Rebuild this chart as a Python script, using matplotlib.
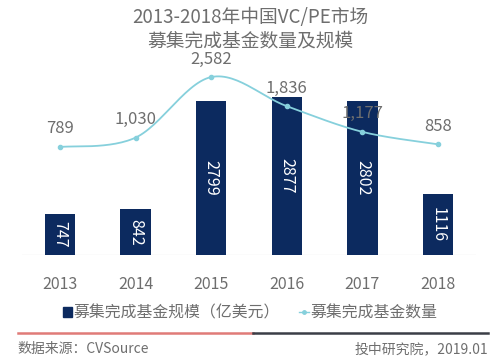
import numpy as np
import matplotlib
matplotlib.use("Agg")
import matplotlib.pyplot as plt
from matplotlib.patches import Rectangle
from matplotlib.lines import Line2D

plt.rcParams['font.family'] = ['Noto Sans CJK SC', 'DejaVu Sans']

years = ['2013', '2014', '2015', '2016', '2017', '2018']
fund_size = [747, 842, 2799, 2877, 2802, 1116]      # 募集完成基金规模（亿美元）
fund_count = [789, 1030, 2582, 1836, 1177, 858]     # 募集完成基金数量

title = '2013-2018年中国VC/PE市场\n募集完成基金数量及规模'
legend_labels = ['募集完成基金规模（亿美元）', '募集完成基金数量']
source_text = '数据来源：CVSource'
credit_text = '投中研究院，2019.01'

BAR = '#0c2a5f'
LINE = '#86d0dc'
GRAY = '#6e6e6e'

W, H = 500, 363
fig = plt.figure(figsize=(W / 100, H / 100), dpi=100)
fig.patch.set_facecolor('white')

def fx(px):
    return px / W

def fy(py):
    return 1 - py / H

left_px, right_px = 22.2, 22.2 + 453.6
top_px, bot_px = 60, 255
ax = fig.add_axes([fx(left_px), fy(bot_px), (right_px - left_px) / W, (bot_px - top_px) / H])
x = np.arange(len(years))
ax.set_xlim(-0.5, len(years) - 0.5)
ax.set_ylim(0, (bot_px - top_px) / 0.0549)
bars = ax.bar(x, fund_size, width=0.4, color=BAR, zorder=2)
for xi, v in zip(x, fund_size):
    ax.text(xi, v / 2, str(v), rotation=270, ha='center', va='center',
            color='white', fontsize=11.5, zorder=3)
ax.axhline(0, color='#ececec', lw=1, zorder=1)
ax.set_xticks(x)
ax.set_xticklabels(years, fontsize=11.5, color=GRAY)
ax.tick_params(axis='x', length=0, pad=15)
ax.set_yticks([])
for s in ax.spines.values():
    s.set_visible(False)

ax2 = ax.twinx()
scale = 0.039
zero_px = 147 + 789 * scale
ax2.set_ylim(-(bot_px - zero_px) / scale, (zero_px - top_px) / scale)
ax2.set_yticks([])
for s in ax2.spines.values():
    s.set_visible(False)

# smooth (Catmull-Rom) rendering through the data points
pts = np.column_stack([x, fund_count]).astype(float)
cx, cy = [], []
n = len(pts)
for i in range(n - 1):
    p0 = pts[max(i - 1, 0)]
    p1 = pts[i]
    p2 = pts[i + 1]
    p3 = pts[min(i + 2, n - 1)]
    t = np.linspace(0, 1, 30)[:, None]
    seg = 0.5 * ((2 * p1) + (-p0 + p2) * t + (2 * p0 - 5 * p1 + 4 * p2 - p3) * t ** 2
                 + (-p0 + 3 * p1 - 3 * p2 + p3) * t ** 3)
    cx.extend(seg[:, 0]); cy.extend(seg[:, 1])
ax2.plot(cx, cy, color=LINE, lw=1.3, zorder=4)
ax2.plot(x, fund_count, 'o', color=LINE, ms=3, zorder=5)
for xi, v in zip(x, fund_count):
    ax2.annotate(f'{v:,}', (xi, v), xytext=(0, 13), textcoords='offset points',
                 ha='center', va='center', fontsize=12, color=GRAY, zorder=6)

fig.text(0.5, fy(29), title, ha='center', va='center', fontsize=13.5,
         color=GRAY, linespacing=1.15)

handles = [Rectangle((0, 0), 1, 1, color=BAR),
           Line2D([0], [0], color=LINE, marker='o', ms=2.5, lw=1)]
fig.legend(handles, legend_labels, loc='center', bbox_to_anchor=(0.5, fy(313)),
           ncol=2, frameon=False, fontsize=11.4, labelcolor=GRAY,
           handlelength=0.6, handleheight=0.6, handletextpad=0.1, columnspacing=1.2)

fig.add_artist(Line2D([fx(18), fx(253)], [fy(333), fy(333)], color='#e07b78', lw=1.8))
fig.add_artist(Line2D([fx(253), fx(488)], [fy(333), fy(333)], color='#3b3e46', lw=1.8))
fig.text(fx(17), fy(349), source_text, ha='left', va='center', fontsize=10, color=GRAY)
fig.text(fx(488), fy(349), credit_text, ha='right', va='center', fontsize=10, color=GRAY)

fig.savefig('out.png', dpi=100)
